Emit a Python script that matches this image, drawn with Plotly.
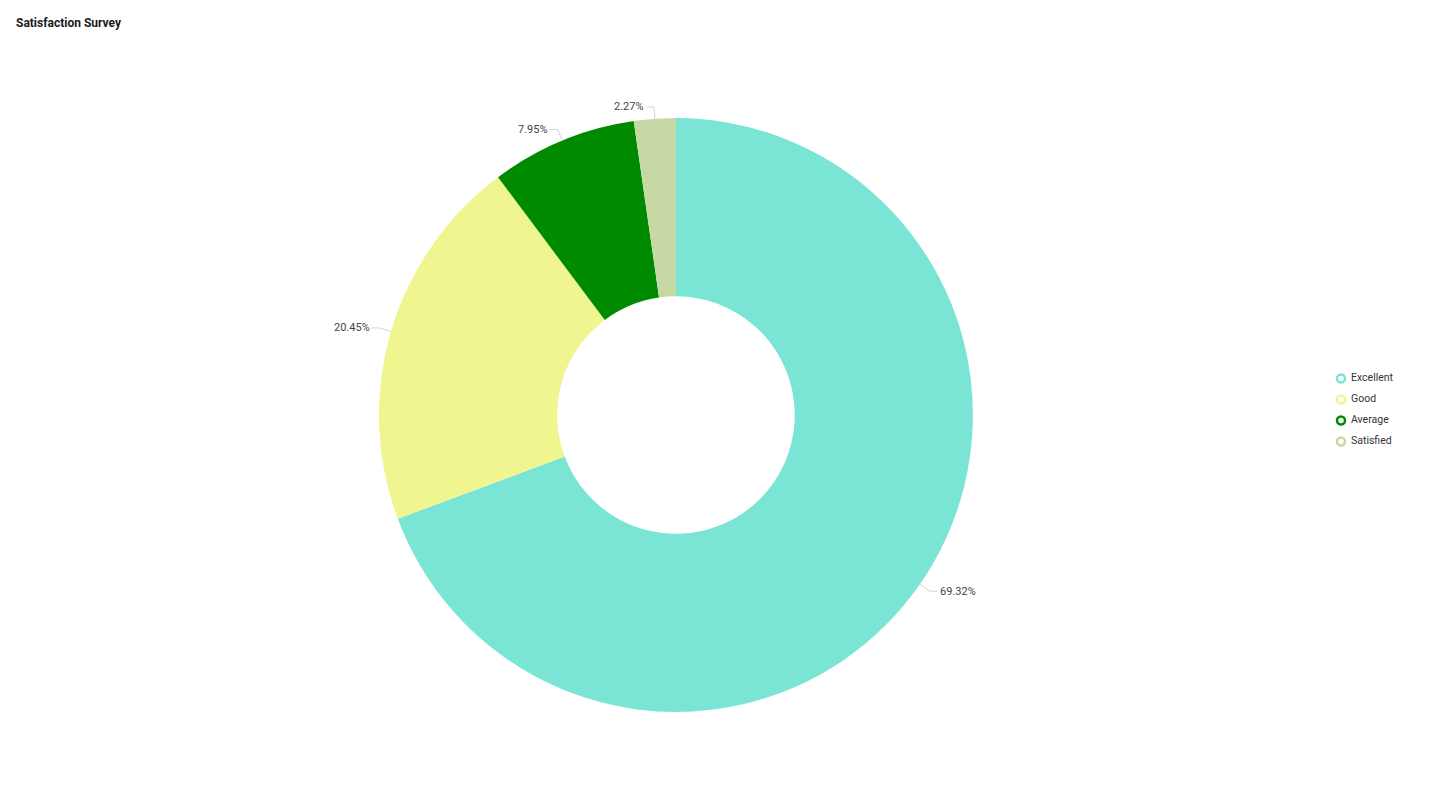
import math
import plotly.graph_objects as go

# survey answers (counts): 61/88 = 69.32% etc.
labels = ["Excellent", "Good", "Average", "Satisfied"]
counts = [61, 18, 7, 2]
colors = ["#7ae5d5", "#eff58f", "#008a00", "#c6d9a4"]

W, H = 1414, 788
pie_x = [0.2624, 0.6824]
pie_y = [0.1066, 0.8604]

fig = go.Figure()

fig.add_trace(go.Pie(
    labels=labels,
    values=counts,
    hole=0.4,
    sort=False,
    direction="clockwise",
    rotation=0,
    marker=dict(colors=colors, line=dict(width=0)),
    textinfo="none",
    showlegend=False,
    hoverinfo="label+value+percent",
    domain=dict(x=pie_x, y=pie_y),
))

# outside labels with leader lines (radial piece, then a short horizontal piece)
cx = (pie_x[0] + pie_x[1]) / 2 * W
cy = (pie_y[0] + pie_y[1]) / 2 * H
R = min((pie_x[1] - pie_x[0]) * W, (pie_y[1] - pie_y[0]) * H) / 2
total = sum(counts)
shapes, annots = [], []
start = 0.0
for v in counts:
    mid = (start + v / 2) / total * 2 * math.pi
    start += v
    sx, sy = math.sin(mid), math.cos(mid)
    p0 = (cx + R * sx, cy + R * sy)
    p1 = (cx + (R + 12) * sx, cy + (R + 12) * sy)
    side = 1 if sx >= 0 else -1
    p2 = (p1[0] + 8 * side, p1[1])
    shapes.append(dict(
        type="path", xref="paper", yref="paper",
        path="M {:.5f} {:.5f} L {:.5f} {:.5f} L {:.5f} {:.5f}".format(
            p0[0] / W, p0[1] / H, p1[0] / W, p1[1] / H, p2[0] / W, p2[1] / H),
        line=dict(color="#c8c8c8", width=0.8),
    ))
    annots.append(dict(
        text="{:.2f}%".format(v / total * 100),
        xref="paper", yref="paper",
        x=p2[0] / W, y=p2[1] / H,
        xanchor="left" if side > 0 else "right", yanchor="middle",
        showarrow=False,
        font=dict(family="Roboto", size=11, color="#444444"),
    ))

# legend drawn as open rings with names beside them
rows = list(range(len(labels) - 1, -1, -1))
fig.add_trace(go.Scatter(
    x=[0.5] * len(labels),
    y=rows,
    mode="markers",
    marker=dict(symbol="circle-open", size=8, color=colors, line=dict(width=2.5, color=colors)),
    cliponaxis=False,
    showlegend=False,
    text=labels,
    hoverinfo="text",
))
fig.add_trace(go.Scatter(
    x=[1.0] * len(labels),
    y=rows,
    mode="text",
    text=labels,
    textposition="middle right",
    textfont=dict(family="Roboto", size=10.5, color="#333333"),
    cliponaxis=False,
    showlegend=False,
    hoverinfo="skip",
))

annots.append(dict(
    text="<b>Satisfaction Survey</b>",
    xref="paper", yref="paper",
    x=6 / W, y=0.981, xanchor="left", yanchor="middle",
    showarrow=False,
    font=dict(family="Roboto", size=12, color="#1a1a1a"),
))

fig.update_layout(
    width=W,
    height=H,
    margin=dict(l=0, r=0, t=0, b=0),
    paper_bgcolor="white",
    plot_bgcolor="rgba(0,0,0,0)",
    xaxis=dict(visible=False, range=[0, 1], domain=[1323 / W, 1343 / W], fixedrange=True),
    yaxis=dict(visible=False, range=[-0.5, 3.5], domain=[344 / H, 428 / H], fixedrange=True),
    font=dict(family="Roboto", color="#333333"),
    shapes=shapes,
    annotations=annots,
)

fig.write_html("out.html")
